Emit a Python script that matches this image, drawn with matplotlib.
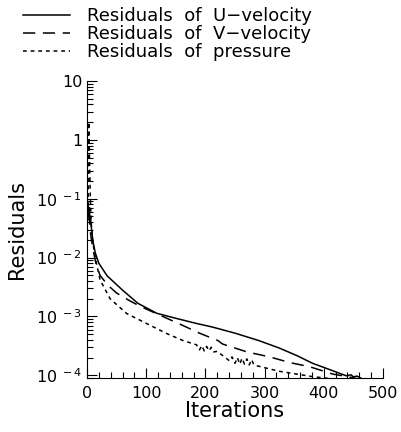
import numpy as np
import matplotlib
matplotlib.use('Agg')
from matplotlib import pyplot as plt
from matplotlib.ticker import LogLocator, MultipleLocator, FixedFormatter, FixedLocator

# residual histories
it_u = [0, 1, 2, 3, 4, 5, 6, 8, 10, 14, 20, 34, 60, 86, 118, 150, 185, 212, 250, 290, 325, 355, 381, 410, 438, 446, 450, 456, 464]
res_u = [0.1, 0.06, 0.085, 0.05, 0.07, 0.04, 0.045, 0.028, 0.019, 0.012, 8e-3, 4.9e-3, 2.8e-3, 1.67e-3, 1.13e-3, 9.3e-4, 7.6e-4, 6.6e-4, 5.2e-4, 3.9e-4, 2.9e-4, 2.15e-4, 1.6e-4, 1.25e-4, 9.8e-5, 1.02e-4, 9.4e-5, 9.7e-5, 8.8e-5]

it_v = [0, 1, 2, 3, 4, 5, 7, 10, 15, 22, 35, 50, 70, 89, 126, 157, 190, 221, 229, 270, 309, 342, 376, 415, 440, 460]
res_v = [0.09, 0.05, 0.07, 0.04, 0.05, 0.03, 0.022, 0.014, 8e-3, 5e-3, 3.4e-3, 2.5e-3, 1.9e-3, 1.5e-3, 1.02e-3, 7.4e-4, 5.2e-4, 3.9e-4, 3.4e-4, 2.5e-4, 2.05e-4, 1.65e-4, 1.4e-4, 1.05e-4, 9.5e-5, 8.6e-5]

it_p = [0, 2, 3, 4, 5, 6, 7, 9, 12, 16, 22, 39, 67, 95, 135, 162, 185, 190, 194, 198, 202, 206, 210, 214, 220, 241, 245, 250, 254, 258, 262, 266, 270, 274, 278, 282, 287, 325, 381, 438, 465]
res_p = [0.08, 0.1, 2.0, 0.6, 0.2, 0.08, 0.04, 0.022, 0.013, 8e-3, 4.2e-3, 2.0e-3, 1.12e-3, 8.1e-4, 5.1e-4, 3.9e-4, 3.3e-4, 2.7e-4, 3.2e-4, 2.6e-4, 3.1e-4, 2.6e-4, 3.0e-4, 2.5e-4, 2.55e-4, 1.75e-4, 2.05e-4, 1.6e-4, 2.0e-4, 1.55e-4, 1.95e-4, 1.55e-4, 1.9e-4, 1.5e-4, 1.85e-4, 1.5e-4, 1.45e-4, 1.17e-4, 9.5e-5, 8.2e-5, 7.9e-5]

labels = ['Residuals  of  U\u2212velocity', 'Residuals  of  V\u2212velocity', 'Residuals  of  pressure']
y_ticks = [1e-4, 1e-3, 1e-2, 1e-1, 1, 10]
y_ticklabels = [r'$10^{\ -4}$', r'$10^{\ -3}$', r'$10^{\ -2}$', r'$10^{\ -1}$', '1', '10']

plt.rcParams['mathtext.default'] = 'regular'
fig = plt.figure(figsize=(4.01, 4.32), dpi=100)
ax = fig.add_axes([87 / 401, 1 - 378 / 432, 296 / 401, 297 / 432])

l1, = ax.plot(it_u, res_u, color='black', lw=1.1, ls='-')
l2, = ax.plot(it_v, res_v, color='black', lw=1.1, ls=(0, (8, 5)))
l3, = ax.plot(it_p, res_p, color='black', lw=1.1, ls=(0, (2.5, 2.5)))

ax.set_yscale('log')
ax.set_xlim(0, 500)
ax.set_ylim(0.9e-4, 10)
ax.spines['top'].set_visible(False)
ax.spines['right'].set_visible(False)
ax.yaxis.set_major_locator(FixedLocator(y_ticks))
ax.yaxis.set_major_formatter(FixedFormatter(y_ticklabels))
ax.yaxis.set_minor_locator(LogLocator(base=10, subs=np.arange(2, 10)))
ax.yaxis.set_minor_formatter(plt.NullFormatter())
ax.xaxis.set_major_locator(MultipleLocator(100))
ax.xaxis.set_minor_locator(MultipleLocator(20))
ax.tick_params(which='both', direction='in', width=0.8, labelsize=11.5)
ax.tick_params(which='major', length=7)
ax.tick_params(which='minor', length=4)
ax.tick_params(axis='x', pad=6)
ax.set_xlabel('Iterations', fontsize=15, labelpad=0)
ax.set_ylabel('Residuals', fontsize=15, labelpad=6)

fig.legend([l1, l2, l3], labels, loc='upper left', bbox_to_anchor=(0.04, 1.0),
           frameon=False, fontsize=13, handlelength=2.6, handletextpad=0.95,
           labelspacing=0.0, borderaxespad=0)

fig.savefig('out.png', dpi=100)
